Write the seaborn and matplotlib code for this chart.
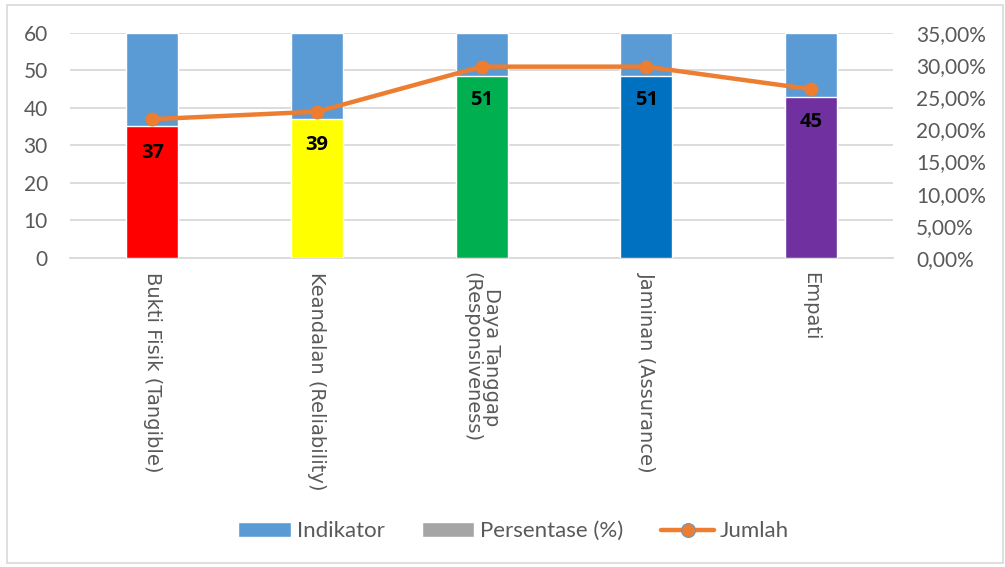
import numpy as np
import matplotlib
matplotlib.use("Agg")
import matplotlib.pyplot as plt
import seaborn as sns
from matplotlib.patches import Patch, Rectangle
from matplotlib.lines import Line2D
from matplotlib.ticker import FuncFormatter, MultipleLocator

# data
categories = [
    "Bukti Fisik (Tangible)",
    "Keandalan (Reliability)",
    "Daya Tanggap\n(Responsiveness)",
    "Jaminan (Assurance)",
    "Empati",
]
indikator = [60, 60, 60, 60, 60]
persentase = [20.56, 21.67, 28.33, 28.33, 25.00]
jumlah = [37, 39, 51, 51, 45]
bar_colors = ["#ff0000", "#ffff00", "#00b050", "#0070c0", "#7030a0"]

BLUE = "#5b9bd5"
ORANGE = "#ed7d31"
GRID = "#d9d9d9"
TICK = "#595959"
LABEL_FONT = ["Lato", "DejaVu Sans"]

sns.set_style("white")
plt.rcParams["font.family"] = LABEL_FONT


def main():
    fig = plt.figure(figsize=(10.05, 5.67), dpi=100)
    ax = fig.add_axes([0.0697, 0.545, 0.819, 0.397])
    ax2 = ax.twinx()
    ax3 = ax.twinx()

    # Indikator bars (left axis, background)
    sns.barplot(x=categories, y=indikator, color=BLUE, width=0.316,
                saturation=1, ax=ax, zorder=2)
    ax.set_ylim(0, 60)
    ax.yaxis.set_major_locator(MultipleLocator(10))
    ax.grid(axis="y", color=GRID, linewidth=1.3, zorder=0)
    ax.set_axisbelow(True)
    ax.tick_params(axis="y", length=0, pad=16, labelsize=15, labelcolor=TICK)

    # Persentase bars (right axis)
    sns.barplot(x=categories, y=persentase, hue=categories,
                palette=bar_colors, width=0.316, saturation=1,
                legend=False, ax=ax2, zorder=3)
    ax2.set_ylim(0, 35)
    ax2.yaxis.set_major_locator(MultipleLocator(5))
    ax2.yaxis.set_major_formatter(
        FuncFormatter(lambda v, p: f"{v:.2f}".replace(".", ",") + "%"))
    ax2.tick_params(axis="y", length=0, pad=16.5, labelsize=15, labelcolor=TICK)

    # Jumlah line (left scale, on top)
    ax3.set_ylim(0, 60)
    ax3.plot(range(len(categories)), jumlah, color=ORANGE, linewidth=3.2,
             marker="o", markersize=9, zorder=5)
    for i, v in enumerate(jumlah):
        ax3.annotate(str(v), (i, v), xytext=(0, -24), textcoords="offset points",
                     ha="center", va="center", fontsize=14.5, fontweight="bold",
                     color="black", family=["Open Sans", "DejaVu Sans"])
    ax3.set_yticks([])

    for a in (ax, ax2, ax3):
        a.set_xlabel("")
        a.set_ylabel("")
        for s in a.spines.values():
            s.set_visible(False)
        a.set_xlim(-0.5, len(categories) - 0.5)
    ax.spines["bottom"].set_visible(True)
    ax.spines["bottom"].set_color(GRID)
    ax.spines["bottom"].set_linewidth(1.3)

    # category labels, set last so the shared x axis keeps them
    ax.set_xticks(range(len(categories)))
    ax.set_xticklabels(categories, rotation=-90, va="top", ha="center",
                       fontsize=14, color=TICK, linespacing=1.0,
                       fontfamily="DejaVu Sans")
    ax.tick_params(axis="x", length=0, pad=10, labelfontfamily="DejaVu Sans")

    handles = [
        Patch(facecolor=BLUE),
        Patch(facecolor="#a5a5a5"),
        Line2D([0], [0], color=ORANGE, linewidth=3.2, marker="o",
               markersize=10, markeredgecolor=BLUE, markeredgewidth=0.8),
    ]
    fig.legend(handles, ["Indikator", "Persentase (%)", "Jumlah"],
               loc="center", bbox_to_anchor=(0.511, 0.063), ncol=3,
               frameon=False, fontsize=16, labelcolor=TICK,
               handlelength=2.35, handletextpad=0.27, columnspacing=1.7)

    fig.patches.append(Rectangle((0.007, 0.007), 0.991, 0.984,
                                 transform=fig.transFigure, fill=False,
                                 edgecolor=GRID, linewidth=1.2))

    fig.savefig("out.png", dpi=100)


if __name__ == "__main__":
    main()
